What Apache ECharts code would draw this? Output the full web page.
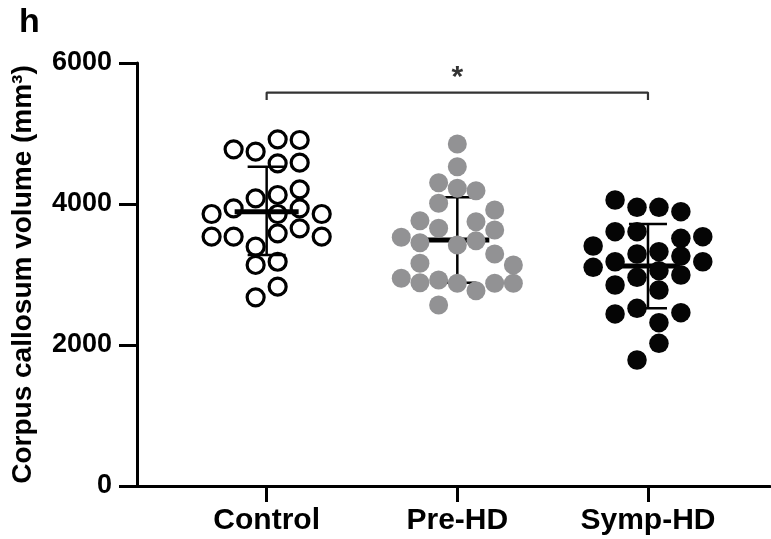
<!DOCTYPE html>
<html>
<head>
<meta charset="utf-8">
<script src="https://cdn.jsdelivr.net/npm/echarts@6/dist/echarts.min.js"></script>
<style>
  html, body { margin: 0; padding: 0; background: #fff; }
  #chart { width: 771px; height: 539px; }
</style>
</head>
<body>
<div id="chart"></div>
<script>
// ---- data ----
const categories = ['Control', 'Pre-HD', 'Symp-HD'];
const yTicks = [0, 2000, 4000, 6000];

// individual volumes (mm^3) and swarm column of each point
const controlValues = [4918, 4908, 4776, 4742, 4586, 4577, 4208, 4128, 4081, 3939, 3939, 3858, 3858, 3858, 3655, 3584, 3536, 3536, 3536, 3394, 3181, 3135, 2827, 2676];
const controlCols   = [0.5, 1.5, -1.5, -0.5, 1.5, 0.5, 1.5, 0.5, -0.5, -1.5, 1.5, -2.5, 0.5, 2.5, 1.5, 0.5, -2.5, -1.5, 2.5, -0.5, 0.5, -0.5, 0.5, -0.5];

const preHDValues = [4851, 4529, 4302, 4223, 4189, 4010, 3915, 3763, 3749, 3655, 3631, 3528, 3479, 3451, 3418, 3291, 3159, 3135, 2946, 2922, 2884, 2875, 2875, 2875, 2770, 2567];
const preHDCols   = [0, 0, -1, 0, 1, -1, 2, -2, 1, -1, 2, -3, 1, -2, 0, 2, -2, 3, -3, -1, -2, 0, 2, 3, 1, -1];

const sympHDValues = [4057, 3953, 3953, 3891, 3607, 3607, 3536, 3513, 3404, 3323, 3291, 3262, 3181, 3181, 3102, 3054, 2993, 2960, 2851, 2780, 2521, 2458, 2440, 2316, 2024, 1787];
const sympHDCols   = [-1.5, -0.5, 0.5, 1.5, -1.5, -0.5, 2.5, 1.5, -2.5, 0.5, -0.5, 1.5, -1.5, 2.5, -2.5, 0.5, 1.5, -0.5, -1.5, 0.5, -0.5, 1.5, -1.5, 0.5, 0.5, -0.5];

// mean and mean ± SD
const groupMean = [3891, 3489, 3120];
const groupLow  = [3277, 2884, 2520];
const groupHigh = [4530, 4095, 3716];

// significance bracket (Control vs Symp-HD)
const sigFrom = 1, sigTo = 3, sigLevel = 5580, sigDrop = 5475, sigText = '*';

// ---- styling constants ----
const FONT = 'Liberation Sans, Arial, Helvetica, sans-serif';
const colStep = [0.1155, 0.098, 0.115];

function swarm(groupIdx, vals, cols) {
  return vals.map((v, i) => [groupIdx + 1 + cols[i] * colStep[groupIdx], v]);
}

const errData = categories.map((c, i) => [i + 1, groupMean[i], groupLow[i], groupHigh[i]]);

const chart = echarts.init(document.getElementById('chart'), null, { renderer: 'canvas' });
chart.setOption({
  animation: false,
  backgroundColor: '#fff',
  title: {
    text: 'h', left: 14, top: 1,
    textStyle: { fontFamily: FONT, fontSize: 34, fontWeight: 'bold', color: '#000' }
  },
  grid: { left: 137, right: 1, top: 63, bottom: 53, containLabel: false, outerBoundsMode: 'none' },
  xAxis: {
    type: 'value', min: 0.32, max: 3.64,
    axisLine: { show: true, lineStyle: { color: '#000', width: 3 } },
    axisTick: { show: true, customValues: [1, 2, 3], length: 16, lineStyle: { color: '#000', width: 3 } },
    axisLabel: {
      show: true, customValues: [1, 2, 3], margin: 20,
      formatter: v => categories[Math.round(v) - 1] || '',
      fontFamily: FONT, fontSize: 30, fontWeight: 'bold', color: '#000'
    },
    splitLine: { show: false }
  },
  yAxis: {
    type: 'value', min: yTicks[0], max: yTicks[yTicks.length - 1], interval: 2000,
    name: 'Corpus callosum volume (mm³)', nameLocation: 'middle', nameGap: 100,
    nameTextStyle: { fontFamily: FONT, fontSize: 28, fontWeight: 'bold', color: '#000' },
    axisLine: { show: true, lineStyle: { color: '#000', width: 3 } },
    axisTick: { show: true, length: 18, lineStyle: { color: '#000', width: 3 } },
    axisLabel: { margin: 25, formatter: v => String(v), fontFamily: FONT, fontSize: 27, fontWeight: 'bold', color: '#000' },
    splitLine: { show: false }
  },
  series: [
    {
      type: 'custom', z: 1,
      data: errData,
      renderItem: function (params, api) {
        const x = api.value(0);
        const c = api.coord([x, api.value(1)]);
        const lo = api.coord([x, api.value(2)]);
        const hi = api.coord([x, api.value(3)]);
        const st = { stroke: '#000', lineWidth: 2.5 };
        return {
          type: 'group', children: [
            { type: 'line', shape: { x1: c[0], y1: hi[1], x2: c[0], y2: lo[1] }, style: st },
            { type: 'line', shape: { x1: c[0] - 19, y1: hi[1], x2: c[0] + 19, y2: hi[1] }, style: st },
            { type: 'line', shape: { x1: c[0] - 19, y1: lo[1], x2: c[0] + 19, y2: lo[1] }, style: st },
            { type: 'line', shape: { x1: c[0] - 32, y1: c[1], x2: c[0] + 32, y2: c[1] }, style: { stroke: '#000', lineWidth: 5 } }
          ]
        };
      }
    },
    {
      name: 'Control', type: 'scatter', z: 3, symbol: 'circle', symbolSize: 17,
      itemStyle: { color: 'rgba(255,255,255,0)', borderColor: '#000', borderWidth: 3.2, opacity: 1 },
      data: swarm(0, controlValues, controlCols)
    },
    {
      name: 'Pre-HD', type: 'scatter', z: 3, symbol: 'circle', symbolSize: 19,
      itemStyle: { color: '#929294', opacity: 1 },
      data: swarm(1, preHDValues, preHDCols)
    },
    {
      name: 'Symp-HD', type: 'scatter', z: 3, symbol: 'circle', symbolSize: 19.5,
      itemStyle: { color: '#050505', opacity: 1 },
      data: swarm(2, sympHDValues, sympHDCols)
    },
    {
      type: 'line', z: 2, symbol: 'none', silent: true,
      lineStyle: { color: '#333', width: 2.2 },
      data: [[sigFrom, sigDrop], [sigFrom, sigLevel], [sigTo, sigLevel], [sigTo, sigDrop]]
    },
    {
      type: 'scatter', z: 2, symbolSize: 0, silent: true,
      data: [[(sigFrom + sigTo) / 2, sigLevel]],
      label: {
        show: true, position: 'top', distance: 0, formatter: sigText,
        fontFamily: FONT, fontSize: 30, fontWeight: 'bold', color: '#000'
      }
    }
  ]
});
</script>
</body>
</html>
